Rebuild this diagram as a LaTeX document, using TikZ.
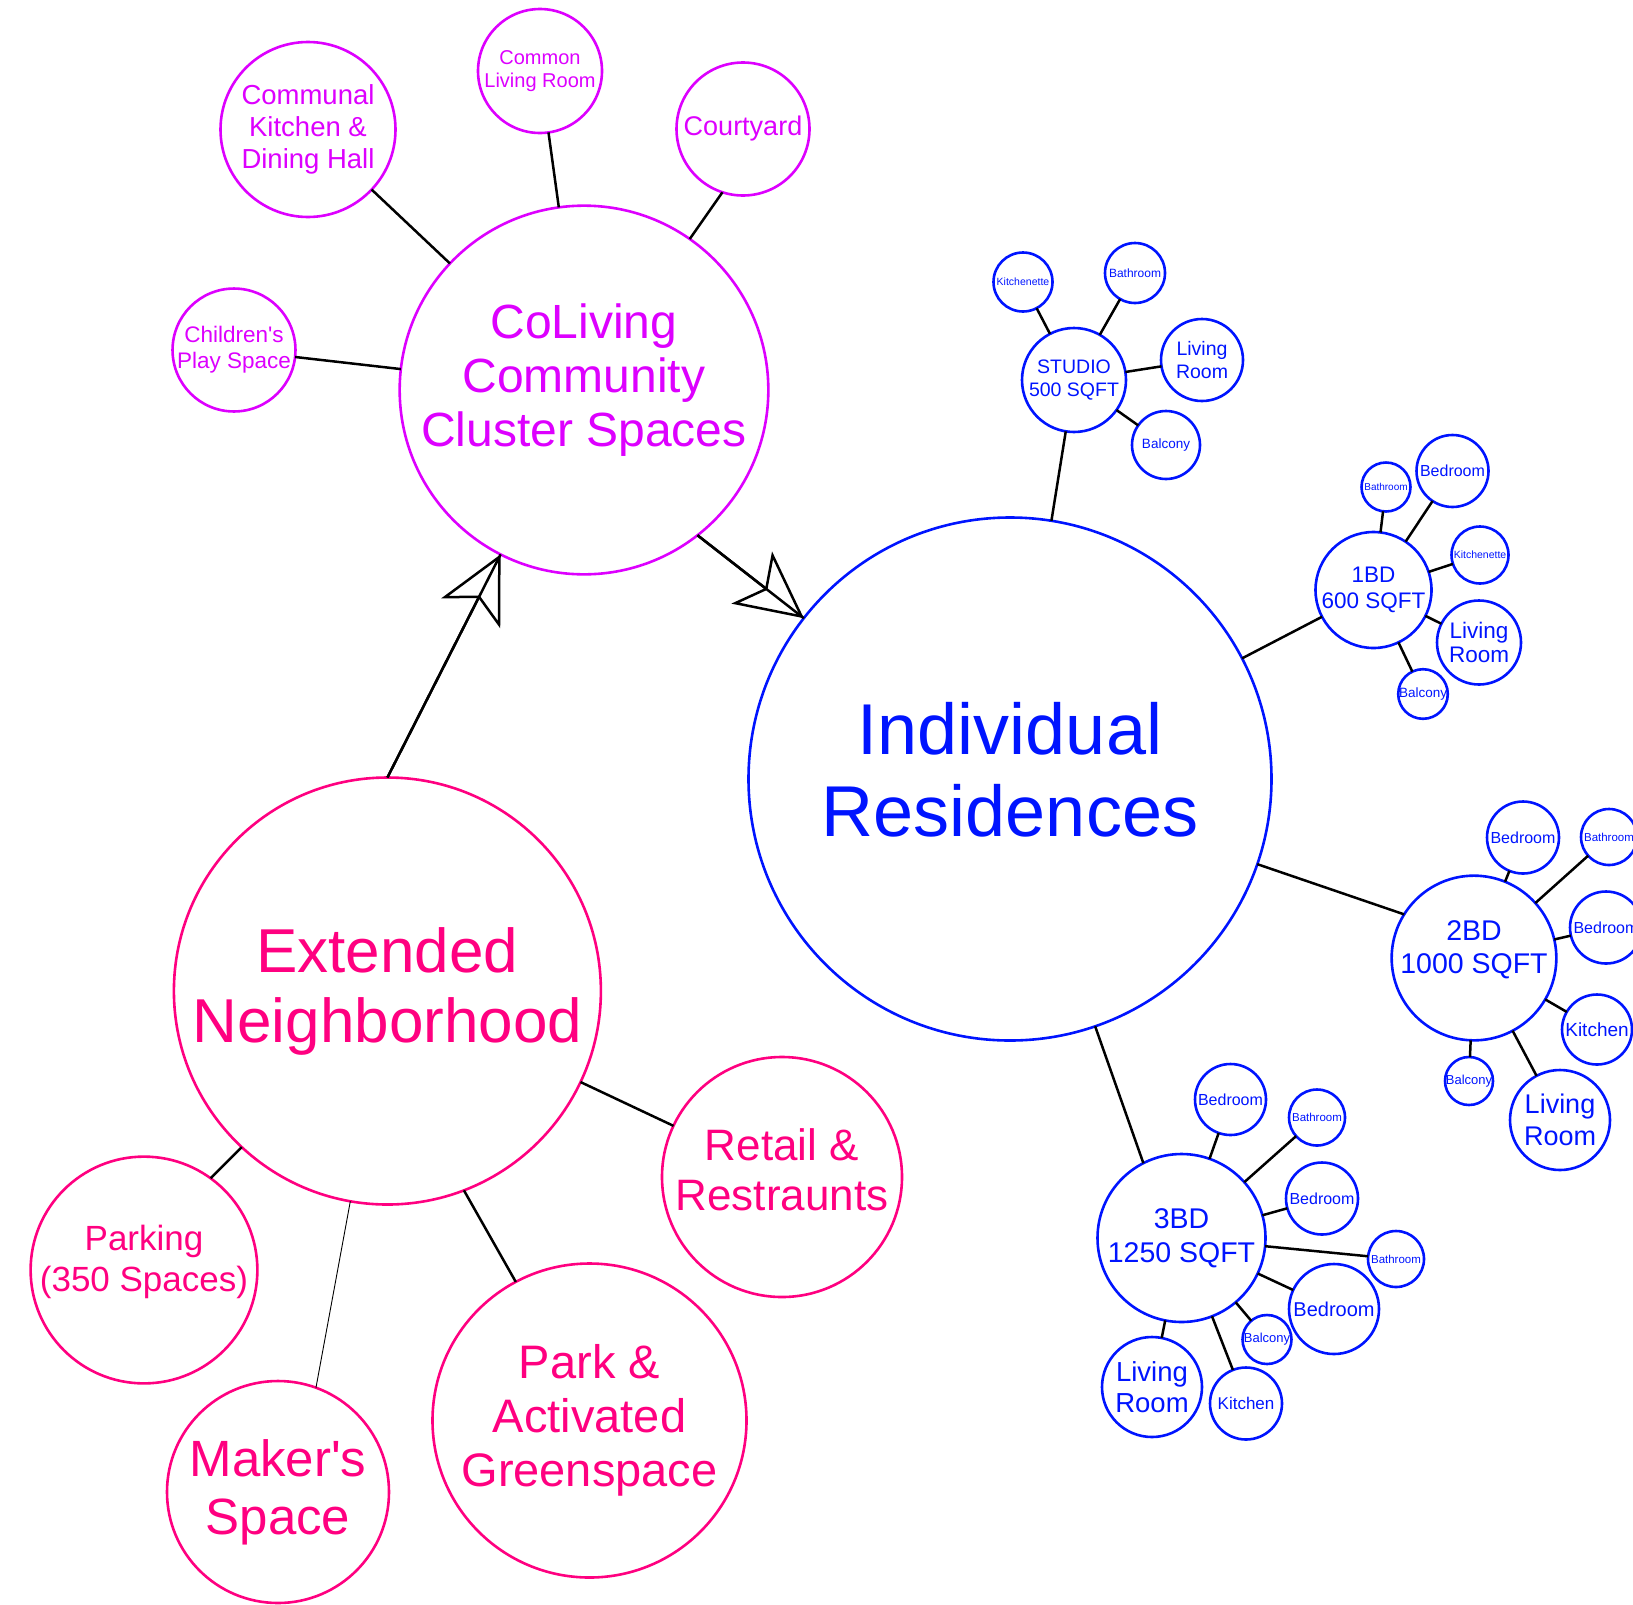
\documentclass[tikz,border=0pt]{standalone}
\usepackage{fontspec}
\newfontfamily\bubsans{Liberation Sans}
\usetikzlibrary{arrows.meta}
\definecolor{resblue}{RGB}{0,20,255}
\definecolor{colivpurple}{RGB}{221,0,255}
\definecolor{hoodpink}{RGB}{255,0,128}
\newcommand{\bubfont}[2]{\bubsans\fontsize{#1}{#2}\selectfont}
\newcommand{\txtup}[1]{\rule[-#1]{0pt}{#1}}
\begin{document}
\begin{tikzpicture}[x=1pt,y=1pt,yscale=-1, inner sep=0pt, outer sep=0pt,
  bub/.style={circle, draw, line width=2.6pt, align=center, minimum size=#1},
  resbub/.style={bub=#1, draw=resblue, text=resblue},
  livbub/.style={bub=#1, draw=colivpurple, text=colivpurple},
  hoodbub/.style={bub=#1, draw=hoodpink, text=hoodpink},
  link/.style={draw=black, line width=2.5pt},
  flow/.style={link, -{Stealth[open, length=66pt, width=66pt, inset=17pt]}, postaction={draw, -}}]
\useasboundingbox (0,0) rectangle (1633,1604);

\node[resbub=523pt, font=\bubfont{72}{82}] (resid) at (1010,779) {Individual\\Residences\txtup{20pt}};
\node[livbub=367pt, font=\bubfont{48}{54}] (coliv) at (584,390) {CoLiving\\Community\\Cluster Spaces\txtup{30pt}};
\node[hoodbub=427pt, font=\bubfont{62}{70}] (hood) at (387.4,991) {Extended\\Neighborhood};

\node[hoodbub=240pt, font=\bubfont{44}{50}] (retail) at (782,1177) {Retail \&\\Restraunts\txtup{14pt}};
\node[hoodbub=314pt, font=\bubfont{47}{54}] (park) at (589.5,1420.5) {Park \&\\Activated\\Greenspace};
\node[hoodbub=222pt, font=\bubfont{51}{58}] (maker) at (278,1492) {Maker's\\Space};
\node[hoodbub=222pt, font=\bubfont{35}{41}] (parking) at (144,1270) {Parking\\(350 Spaces)\txtup{24pt}};

\node[livbub=175pt, font=\bubfont{27.5}{32}] (commkit) at (308,129.5) {Communal\\Kitchen \&\\Dining Hall};
\node[livbub=124pt, font=\bubfont{20}{23}] (commliv) at (540,71) {Common\\Living Room};
\node[livbub=133pt, font=\bubfont{27}{31}] (court) at (743,129) {Courtyard};
\node[livbub=118pt, font=\bubfont{22.5}{26}] (play) at (234,350) {Children's\\Play Space};

\node[resbub=104pt, font=\bubfont{19.5}{22.5}] (studio) at (1074,380) {STUDIO\\500 SQFT};
\node[resbub=59pt, font=\bubfont{10.5}{12}] (studioKit) at (1023,282) {Kitchenette};
\node[resbub=60pt, font=\bubfont{12}{14}] (studioBath) at (1135,273) {Bathroom};
\node[resbub=82pt, font=\bubfont{19.5}{22.5}] (studioLiv) at (1202,360) {Living\\Room};
\node[resbub=68pt, font=\bubfont{13.5}{16}] (studioBal) at (1166,445) {Balcony};

\node[resbub=116pt, font=\bubfont{22.5}{26}] (oneBd) at (1373.5,590) {1BD\\600 SQFT};
\node[resbub=49pt, font=\bubfont{10}{12}] (oneBath) at (1386,487) {Bathroom};
\node[resbub=72pt, font=\bubfont{16}{18}] (oneBed) at (1452.5,471) {Bedroom};
\node[resbub=57pt, font=\bubfont{10.5}{12}] (oneKit) at (1480,555) {Kitchenette};
\node[resbub=84pt, font=\bubfont{22.5}{24}] (oneLiv) at (1479,642.5) {Living\\Room};
\node[resbub=49pt, font=\bubfont{13.5}{16}] (oneBal) at (1423,694) {Balcony};

\node[resbub=156pt, font=\bubfont{28.5}{33}] (twoBd) at (1474,958) {2BD\\1000 SQFT\txtup{22pt}};
\node[resbub=72pt, font=\bubfont{16}{18}] (twoBedA) at (1523,837.5) {Bedroom};
\node[resbub=56pt, font=\bubfont{11.5}{13}] (twoBath) at (1609,837) {Bathroom};
\node[resbub=72pt, font=\bubfont{16}{18}] (twoBedB) at (1606,927.5) {Bedroom};
\node[resbub=70pt, font=\bubfont{19}{22}] (twoKit) at (1597,1029.5) {Kitchen};
\node[resbub=48pt, font=\bubfont{13}{15}] (twoBal) at (1469,1081) {Balcony};
\node[resbub=100pt, font=\bubfont{27}{31.5}] (twoLiv) at (1560,1120) {Living\\Room};

\node[resbub=168pt, font=\bubfont{28.5}{34}] (threeBd) at (1181.5,1238) {3BD\\1250 SQFT};
\node[resbub=71pt, font=\bubfont{16}{18}] (threeBedA) at (1230.5,1099.5) {Bedroom};
\node[resbub=56pt, font=\bubfont{11.5}{13}] (threeBathA) at (1317,1117.5) {Bathroom};
\node[resbub=72pt, font=\bubfont{16}{18}] (threeBedB) at (1322,1198.5) {Bedroom};
\node[resbub=56pt, font=\bubfont{11.5}{13}] (threeBathB) at (1396,1259) {Bathroom};
\node[resbub=90pt, font=\bubfont{20}{23}] (threeBedC) at (1334,1309) {Bedroom};
\node[resbub=49pt, font=\bubfont{13}{15}] (threeBal) at (1267,1339.5) {Balcony};
\node[resbub=72pt, font=\bubfont{17}{20}] (threeKit) at (1246,1403.5) {Kitchen};
\node[resbub=100pt, font=\bubfont{27.5}{31.5}] (threeLiv) at (1152,1387) {Living\\Room};

\draw[flow] (hood.north) -- (coliv);
\draw[flow] (coliv.-52.5) -- (resid);

\draw[link] (commkit) -- (coliv);
\draw[link] (commliv) -- (coliv);
\draw[link] (court.-108) -- (coliv.55);
\draw[link] (play) -- (coliv);

\draw[link] (hood) -- (retail);
\draw[link] (hood.-69) -- (park.118);
\draw[link, line width=0.9pt] (hood.-100) -- (maker.70);
\draw[link] (hood.-133) -- (parking.54);

\draw[link] (resid) -- (studio);
\draw[link] (resid) -- (oneBd);
\draw[link] (resid.-19) -- (twoBd.148);
\draw[link] (resid.-71) -- (threeBd.117);

\draw[link] (studio) -- (studioKit);
\draw[link] (studio) -- (studioBath);
\draw[link] (studio) -- (studioLiv);
\draw[link] (studio) -- (studioBal);

\draw[link] (oneBd) -- (oneBath);
\draw[link] (oneBd) -- (oneBed);
\draw[link] (oneBd) -- (oneKit);
\draw[link] (oneBd) -- (oneLiv);
\draw[link] (oneBd) -- (oneBal);

\draw[link] (twoBd) -- (twoBedA);
\draw[link] (twoBd) -- (twoBath);
\draw[link] (twoBd) -- (twoBedB);
\draw[link] (twoBd) -- (twoKit);
\draw[link] (twoBd) -- (twoBal);
\draw[link] (twoBd) -- (twoLiv);

\draw[link] (threeBd) -- (threeBedA);
\draw[link] (threeBd) -- (threeBathA);
\draw[link] (threeBd) -- (threeBedB);
\draw[link] (threeBd) -- (threeBathB);
\draw[link] (threeBd) -- (threeBedC);
\draw[link] (threeBd) -- (threeBal);
\draw[link] (threeBd) -- (threeKit);
\draw[link] (threeBd) -- (threeLiv);
\end{tikzpicture}
\end{document}
